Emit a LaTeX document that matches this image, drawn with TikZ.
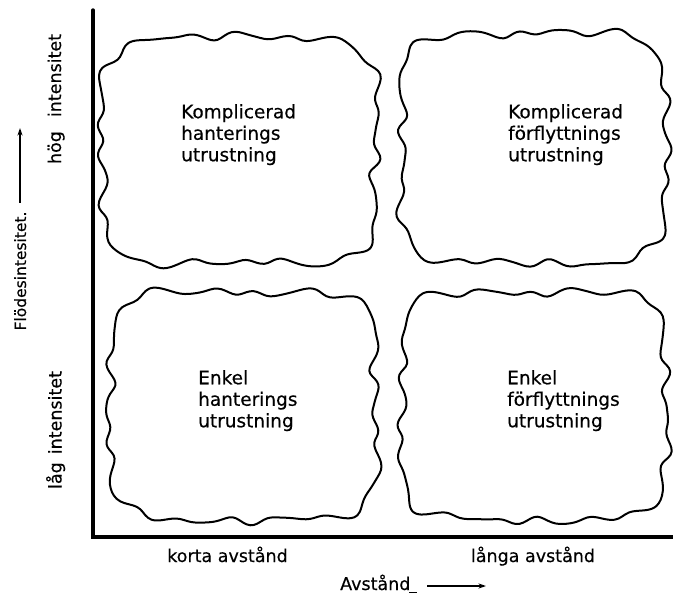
\documentclass[tikz,border=0pt]{standalone}
\usepackage{fontspec}
\setmainfont[FakeBold=0.4]{DejaVu Sans}
\usetikzlibrary{arrows.meta}

% closed wobbly outline: centre (#1,#2), half sizes #3,#4, wave phases #5..#8
\newcommand\wavyblob[8]{%
  \draw[blobline] plot[smooth cycle, samples=240, domain=0:358.5, variable=\t]
    ({#1+#3*sq(\t)*cos(\t)*(1+wob(\t,#5,#6,#7,#8))},
     {#2+#4*sq(\t)*sin(\t)*(1+wob(\t,#5,#6,#7,#8))});
}

\begin{document}
\begin{tikzpicture}[x=1pt,y=-1pt,
  axisline/.style={line width=3.4pt, line cap=round},
  blobline/.style={line width=2pt, line join=round},
  boxtext/.style={font=\fontsize{18.5}{21.5}\selectfont, align=left, anchor=north west, inner sep=0pt},
  axislabel/.style={font=\fontsize{17.5}{21}\selectfont, inner sep=0pt, anchor=base},
  pointer/.style={line width=1.2pt, -{Stealth[length=7.5pt,width=5pt]}},
  declare function={
    sq(\t)=1/pow(pow(abs(cos(\t)),6)+pow(abs(sin(\t)),6),1/6);
    wob(\t,\p,\q,\r,\s)=0.022*sin(19*\t+\p)+0.014*sin(12*\t+\q)+0.013*sin(5*\t+\r)+0.008*sin(29*\t+\s);
  }]
\useasboundingbox (0,0) rectangle (673,599);

% axes
\coordinate (origin) at (93,537);
\coordinate (ytop) at (93,10);
\coordinate (xend) at (673,537);
\draw[axisline] (ytop) -- (origin) -- (xend);

% the four fields
\wavyblob{239}{150}{137}{113}{10}{70}{200}{300}
\wavyblob{534}{148}{132}{115}{120}{30}{90}{15}
\wavyblob{243}{406}{133}{114}{250}{160}{310}{80}
\wavyblob{534}{406}{132}{114}{45}{275}{20}{190}

% field texts
\node[boxtext] (tl) at (181,104) {Komplicerad\\hanterings\\utrustning};
\node[boxtext] (tr) at (508,104) {Komplicerad\\förflyttnings\\utrustning};
\node[boxtext] (bl) at (198,370) {Enkel\\hanterings\\utrustning};
\node[boxtext] (br) at (507,370) {Enkel\\förflyttnings\\utrustning};

% vertical axis labels
\node[axislabel, rotate=90] (hoeg) at (61,99) {hög\hspace{14pt}intensitet};
\node[axislabel, rotate=90] (laag) at (61.5,430) {låg\hspace{8pt}intensitet};
\node[axislabel, rotate=90, font=\fontsize{15.5}{19}\selectfont] (floede) at (26,271) {Flödesintesitet.};
\coordinate (fstart) at (20,203);
\coordinate (fend) at (20,128);
\draw[pointer] (fstart) -- (fend);

% horizontal axis labels
\node[axislabel] (korta) at (227.5,562) {korta avstånd};
\node[axislabel] (langa) at (533,562) {långa avstånd};
\node[axislabel, anchor=base west] (avst) at (340,590) {Avstånd};
\coordinate (ustart) at (409,592);
\coordinate (uend) at (417,592);
\draw[line width=0.9pt] (ustart) -- (uend);
\coordinate (astart) at (427,586);
\coordinate (aend) at (486,586);
\draw[pointer] (astart) -- (aend);
\end{tikzpicture}
\end{document}
